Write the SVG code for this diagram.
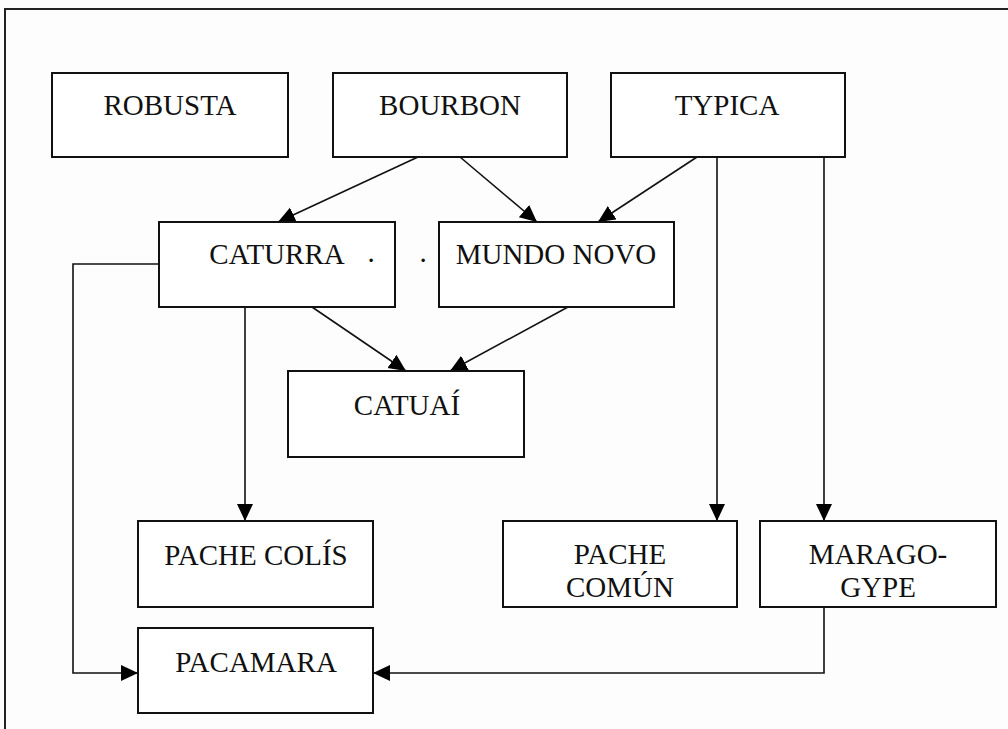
<svg xmlns="http://www.w3.org/2000/svg" width="1008" height="729" viewBox="0 0 1008 729">
<style>
.box{fill:#fff;stroke:#111;stroke-width:2}
.lbl{font-family:"Liberation Serif","Times New Roman",serif;font-size:29px;fill:#111;text-anchor:middle}
.con{fill:none;stroke:#111;stroke-width:1.6}
</style>
<defs>
<marker id="ah" markerUnits="userSpaceOnUse" markerWidth="20" markerHeight="18" refX="17" refY="8" orient="auto">
<path d="M0,0 L17,8 L0,16 z" fill="#000"/>
</marker>
</defs>
<rect width="1008" height="729" fill="#fdfdfd"/>
<path d="M5,729 V9 H1008" fill="none" stroke="#222" stroke-width="2"/>
<g id="connectors">
<line class="con" x1="418" y1="157" x2="278" y2="222" marker-end="url(#ah)"/>
<line class="con" x1="460" y1="157" x2="537" y2="222" marker-end="url(#ah)"/>
<line class="con" x1="697" y1="157" x2="598" y2="222" marker-end="url(#ah)"/>
<line class="con" x1="717" y1="157" x2="717" y2="521" marker-end="url(#ah)"/>
<line class="con" x1="824" y1="157" x2="824" y2="521" marker-end="url(#ah)"/>
<line class="con" x1="312" y1="307" x2="406" y2="371" marker-end="url(#ah)"/>
<line class="con" x1="568" y1="307" x2="450" y2="371" marker-end="url(#ah)"/>
<line class="con" x1="245" y1="307" x2="245" y2="521" marker-end="url(#ah)"/>
<path class="con" d="M159,264 H73 V673 H138" marker-end="url(#ah)"/>
<path class="con" d="M824,607 V673 H373" marker-end="url(#ah)"/>
</g>
<g id="robusta"><rect class="box" x="52" y="73" width="236" height="84"/><text class="lbl" x="170" y="115">ROBUSTA</text></g>
<g id="bourbon"><rect class="box" x="333" y="73" width="234" height="84"/><text class="lbl" x="450" y="115">BOURBON</text></g>
<g id="typica"><rect class="box" x="611" y="73" width="234" height="84"/><text class="lbl" x="727" y="115">TYPICA</text></g>
<g id="caturra"><rect class="box" x="159" y="222" width="236" height="85"/><text class="lbl" x="277" y="264">CATURRA</text><text class="lbl" x="371" y="262">.</text><text class="lbl" x="423" y="262">.</text></g>
<g id="mundonovo"><rect class="box" x="439" y="222" width="235" height="85"/><text class="lbl" x="556" y="264">MUNDO NOVO</text></g>
<g id="catuai"><rect class="box" x="288" y="371" width="236" height="86"/><text class="lbl" x="407" y="415">CATUAÍ</text></g>
<g id="pachecolis"><rect class="box" x="138" y="521" width="235" height="86"/><text class="lbl" x="256" y="565">PACHE COLÍS</text></g>
<g id="pachecomun"><rect class="box" x="503" y="521" width="234" height="86"/><text class="lbl" x="620" y="564">PACHE</text><text class="lbl" x="620" y="597">COMÚN</text></g>
<g id="maragogype"><rect class="box" x="760" y="521" width="236" height="86"/><text class="lbl" x="878" y="564">MARAGO-</text><text class="lbl" x="878" y="597">GYPE</text></g>
<g id="pacamara"><rect class="box" x="138" y="628" width="235" height="85"/><text class="lbl" x="256" y="672">PACAMARA</text></g>
</svg>
